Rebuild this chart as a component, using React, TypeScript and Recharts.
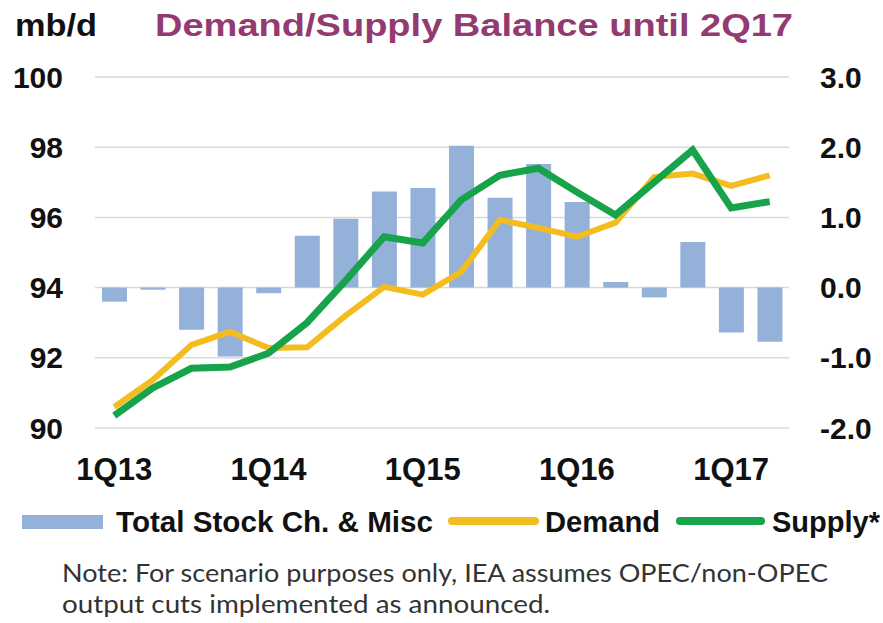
import { ComposedChart, Bar, Line, XAxis, YAxis, CartesianGrid } from 'recharts';

const quarters = [
  '1Q13', '2Q13', '3Q13', '4Q13',
  '1Q14', '2Q14', '3Q14', '4Q14',
  '1Q15', '2Q15', '3Q15', '4Q15',
  '1Q16', '2Q16', '3Q16', '4Q16',
  '1Q17', '2Q17',
];

// right axis, mb/d
const stockChange = [-0.2, -0.03, -0.6, -0.98, -0.08, 0.74, 0.98, 1.37, 1.42, 2.02, 1.28, 1.76, 1.22, 0.08, -0.14, 0.65, -0.64, -0.77];

// left axis, mb/d
const demand = [90.6, 91.37, 92.37, 92.74, 92.28, 92.3, 93.2, 94.02, 93.8, 94.45, 95.93, 95.7, 95.45, 95.85, 97.15, 97.25, 96.9, 97.2];
const supply = [90.35, 91.14, 91.7, 91.74, 92.13, 93.0, 94.2, 95.45, 95.27, 96.5, 97.2, 97.4, 96.72, 96.07, 97.0, 97.92, 96.27, 96.45];

const xLabels = ['1Q13', '1Q14', '1Q15', '1Q16', '1Q17'];
const leftTicks = [90, 92, 94, 96, 98, 100];
const rightTicks = [-2, -1, 0, 1, 2, 3];
const edgeTicks = quarters.map((_, i) => i).concat([quarters.length]);

const chartData = quarters.map((q, i) => ({
  quarter: q,
  stock: stockChange[i],
  demand: demand[i],
  supply: supply[i],
}));

const BAR = '#93B1D9';
const YELLOW = '#F4BD1F';
const GREEN = '#17A34A';
const AXIS = '#4a4a4a';
const FONT = '"Liberation Sans", Arial, sans-serif';

export default function App() {
  const tickStyle = { fontSize: 30, fontWeight: 700, fill: '#111', fontFamily: FONT };

  return (
    <div style={{ position: 'absolute', left: 0, top: 0, width: 883, height: 623, background: '#fff' }}>
      <ComposedChart
        width={883}
        height={623}
        data={chartData}
        margin={{ top: 77, right: 0, bottom: 165, left: 0 }}
      >
        <CartesianGrid yAxisId="left" vertical={false} stroke="#D9D9D9" strokeWidth={1.5} />
        <XAxis
          xAxisId="edge"
          type="number"
          domain={[0, quarters.length]}
          ticks={edgeTicks}
          tick={false}
          tickSize={9}
          height={0}
          axisLine={{ stroke: AXIS, strokeWidth: 2 }}
          tickLine={{ stroke: AXIS, strokeWidth: 2 }}
        />
        <XAxis
          xAxisId="cat"
          dataKey="quarter"
          ticks={xLabels}
          interval={0}
          axisLine={false}
          tickLine={false}
          tickSize={0}
          tickMargin={30}
          height={30}
          tick={{ ...tickStyle, fontSize: 31 }}
        />
        <YAxis
          yAxisId="left"
          domain={[90, 100]}
          ticks={leftTicks}
          width={95}
          axisLine={false}
          tickLine={false}
          tickSize={0}
          tickMargin={32}
          tick={tickStyle}
        />
        <YAxis
          yAxisId="right"
          orientation="right"
          domain={[-2, 3]}
          ticks={rightTicks}
          width={94}
          axisLine={false}
          tickLine={false}
          tickSize={0}
          tickMargin={31}
          tick={{ ...tickStyle, textAnchor: 'start' }}
          tickFormatter={(v: number) => v.toFixed(1)}
        />
        <Bar xAxisId="cat" yAxisId="right" dataKey="stock" fill={BAR} barSize={25} isAnimationActive={false} />
        <Line
          xAxisId="cat"
          yAxisId="left"
          type="linear"
          dataKey="demand"
          stroke={YELLOW}
          strokeWidth={6}
          dot={false}
          activeDot={false}
          isAnimationActive={false}
        />
        <Line
          xAxisId="cat"
          yAxisId="left"
          type="linear"
          dataKey="supply"
          stroke={GREEN}
          strokeWidth={7}
          dot={false}
          activeDot={false}
          isAnimationActive={false}
        />
      </ComposedChart>

      {/* title, unit, legend and note */}
      <svg width={883} height={623} style={{ position: 'absolute', left: 0, top: 0, pointerEvents: 'none' }}>
        <text x={15} y={36} fontFamily={FONT} fontWeight={700} fontSize={31} fill="#111" textLength={82} lengthAdjust="spacingAndGlyphs">
          mb/d
        </text>
        <text x={155} y={36} fontFamily={FONT} fontWeight={700} fontSize={32} fill="#933A70" textLength={638} lengthAdjust="spacingAndGlyphs">
          Demand/Supply Balance until 2Q17
        </text>

        <rect x={22} y={515} width={81} height={14} fill={BAR} />
        <text x={116} y={532} fontFamily={FONT} fontWeight={700} fontSize={29} fill="#111" textLength={317} lengthAdjust="spacingAndGlyphs">
          Total Stock Ch. &amp; Misc
        </text>
        <line x1={452} y1={521} x2={535} y2={521} stroke={YELLOW} strokeWidth={8} strokeLinecap="round" />
        <text x={545} y={532} fontFamily={FONT} fontWeight={700} fontSize={29} fill="#111" textLength={115} lengthAdjust="spacingAndGlyphs">
          Demand
        </text>
        <line x1={680} y1={521} x2={761} y2={521} stroke={GREEN} strokeWidth={8} strokeLinecap="round" />
        <text x={772} y={532} fontFamily={FONT} fontWeight={700} fontSize={29} fill="#111" textLength={108} lengthAdjust="spacingAndGlyphs">
          Supply*
        </text>

        <text x={62} y={582} fontFamily="Lato, 'Open Sans', sans-serif" fontSize={25} fill="#333" textLength={766} lengthAdjust="spacingAndGlyphs">
          Note: For scenario purposes only, IEA assumes OPEC/non-OPEC
        </text>
        <text x={62} y={613} fontFamily="Lato, 'Open Sans', sans-serif" fontSize={25} fill="#333" textLength={488} lengthAdjust="spacingAndGlyphs">
          output cuts implemented as announced.
        </text>
      </svg>
    </div>
  );
}
